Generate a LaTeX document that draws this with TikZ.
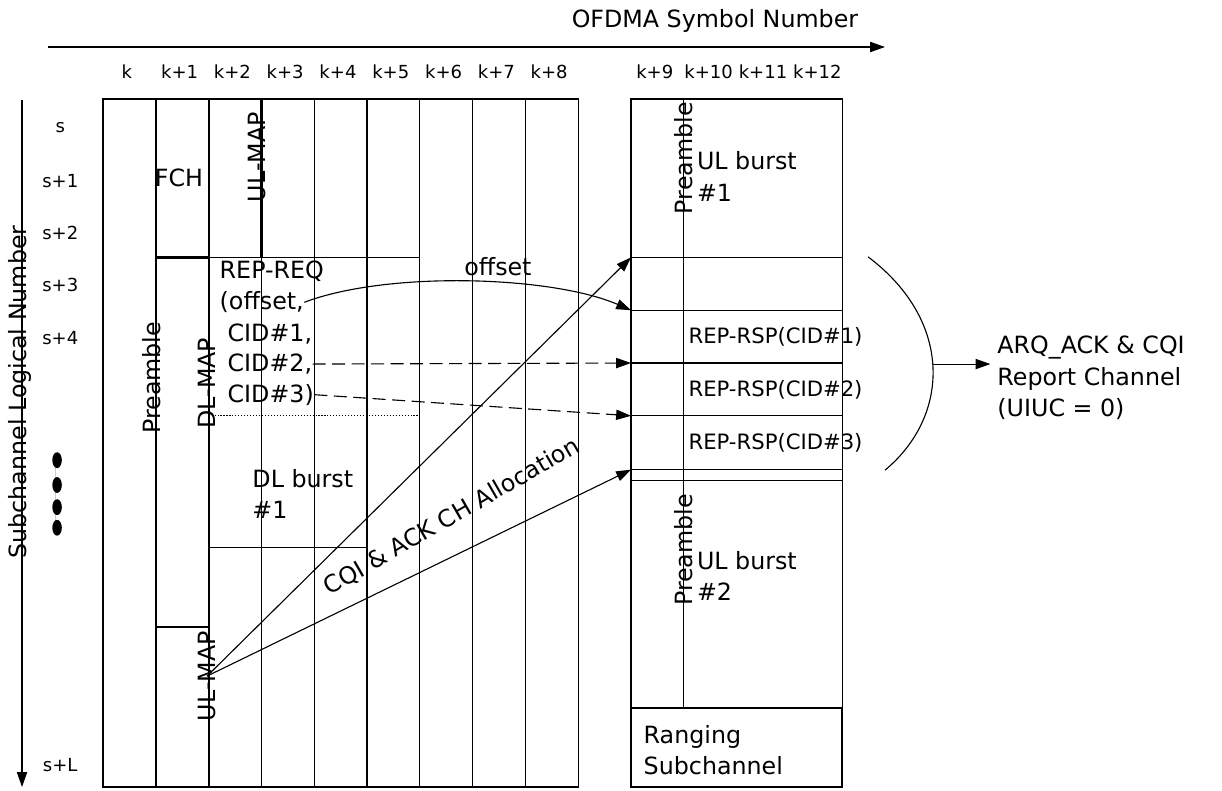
\documentclass[tikz,border=0pt]{standalone}
\usepackage{fontspec}
\setmainfont{DejaVu Sans}
\usetikzlibrary{arrows.meta}
\begin{document}
\begin{tikzpicture}[>={Triangle[length=8pt,width=5.5pt]}, line width=.6pt, inner sep=0pt,
  font=\fontsize{12.8}{16.9}\selectfont,
  thk/.style={line width=1.2pt},
  lab/.style={font=\fontsize{9.7}{12}\selectfont},
  rsp/.style={anchor=west, font=\fontsize{11.4}{14}\selectfont}]
\useasboundingbox (-1.951,1.875) rectangle (21.193,-13.106);

\node (T) at (11.59,1.47){OFDMA Symbol Number};
\node[rotate=90] (S) at (-1.57,-5.55){Subchannel Logical Number};
\coordinate (T0) at (-1.04,.985);
\coordinate (T1) at (14.81,.985);
\coordinate (S0) at (-1.534,-.02);
\coordinate (S1) at (-1.534,-13.03);
\draw[->](T0)--(T1);
\draw[->](S0)--(S1);

\node[lab] (k0) at (.45,.51){k};
\node[lab] (k1) at (1.45,.51){k+1};
\node[lab] (k2) at (2.45,.51){k+2};
\node[lab] (k3) at (3.45,.51){k+3};
\node[lab] (k4) at (4.45,.51){k+4};
\node[lab] (k5) at (5.45,.51){k+5};
\node[lab] (k6) at (6.45,.51){k+6};
\node[lab] (k7) at (7.45,.51){k+7};
\node[lab] (k8) at (8.45,.51){k+8};
\node[lab] (k9) at (10.45,.51){k+9};
\node[lab] (k10) at (11.47,.51){k+10};
\node[lab] (k11) at (12.5,.51){k+11};
\node[lab] (k12) at (13.53,.51){k+12};

\node[lab] (s0) at (-.81,-.55){s};
\node[lab] (s1) at (-.81,-1.55){s+1};
\node[lab] (s2) at (-.81,-2.54){s+2};
\node[lab] (s3) at (-.81,-3.52){s+3};
\node[lab] (s4) at (-.81,-4.53){s+4};
\node[lab] (sL) at (-.81,-12.61){s+L};
\draw[gray!40, line width=.4pt] (-.91,-6.84)--(-.91,-8.12);
\fill (-.87,-6.84) ellipse [x radius=.09, y radius=.15];
\fill (-.87,-7.31) ellipse [x radius=.09, y radius=.15];
\fill (-.87,-7.73) ellipse [x radius=.09, y radius=.15];
\fill (-.87,-8.12) ellipse [x radius=.09, y radius=.15];

\draw (0,0) rectangle (9,-13.03);
\draw (3,-3)--(3,-13.03);
\draw (4,0)--(4,-13.03);
\draw (5,0)--(5,-13.03);
\draw (6,0)--(6,-13.03);
\draw (7,0)--(7,-13.03);
\draw (8,0)--(8,-13.03);
\draw[thk] (0,-13.03)--(0,0)--(3,0)--(3,-3);
\draw[thk] (1,0)--(1,-13.03);
\draw[thk] (2,0)--(2,-13.03);
\draw[thk] (1,-3)--(2,-3);
\draw[thk] (0,-13.03)--(2,-13.03);
\draw (2,-3)--(6,-3);
\draw[densely dotted] (2,-6)--(6,-6);
\draw (2,-8.5)--(5,-8.5);
\draw (1,-10)--(2,-10);

\draw (10,0) rectangle (14,-13.03);
\draw (11,0)--(11,-11.53);
\draw (10,-3)--(14,-3);
\draw (10,-4)--(14,-4);
\draw (10,-5)--(14,-5);
\draw (10,-6)--(14,-6);
\draw (10,-7.02)--(14,-7.02);
\draw (10,-7.22)--(14,-7.22);
\draw[thk] (10,-11.53) rectangle (14,-13.03);
\coordinate (R3) at (10,-3);
\coordinate (R4) at (10,-4);
\coordinate (R5) at (10,-5);
\coordinate (R6) at (10,-6);
\coordinate (R7) at (10,-7.02);

\node (FCH) at (1.44,-1.5){FCH};
\node[rotate=90] (ULMAP1) at (2.92,-1.1){UL-MAP};
\node[rotate=90] (PRE1) at (.93,-5.28){Preamble};
\node[rotate=90] (DLMAP) at (1.97,-5.38){DL-MAP};
\node[rotate=90] (ULMAP2) at (1.97,-10.93){UL-MAP};
\node[anchor=west] (REQ1) at (2.2,-3.26){REP-REQ};
\node[anchor=west] (REQ2) at (2.2,-3.85){(offset,};
\node[anchor=west] (REQ3) at (2.35,-4.45){CID\#1,};
\node[anchor=west] (REQ4) at (2.35,-5.02){CID\#2,};
\node[anchor=west] (REQ5) at (2.35,-5.6){CID\#3)};
\node[align=left, anchor=west] (DL1) at (2.82,-7.48){DL burst\\\#1};
\node (OFF) at (7.48,-3.18){offset};
\node[rotate=30] (CQI) at (6.61,-7.91){CQI \& ACK CH Allocation};

\node[rotate=90] (PRE2) at (10.99,-1.12){Preamble};
\node[align=left, anchor=west] (UL1) at (11.24,-1.47){UL burst\\\#1};
\node[rsp] (RSP1) at (11.08,-4.5){REP-RSP(CID\#1)};
\node[rsp] (RSP2) at (11.08,-5.5){REP-RSP(CID\#2)};
\node[rsp] (RSP3) at (11.08,-6.51){REP-RSP(CID\#3)};
\node[rotate=90] (PRE3) at (10.99,-8.54){Preamble};
\node[align=left, anchor=west] (UL2) at (11.24,-9.03){UL burst\\\#2};
\node[align=left, anchor=west] (RNG) at (10.23,-12.33){Ranging\\Subchannel};
\node[align=left, anchor=west] (ARQ) at (16.93,-5.28){ARQ\_ACK \& CQI\\Report Channel\\(UIUC = 0)};

\draw[->](REQ2.east) .. controls (5.4,-3.25) and (8.5,-3.35) .. (R4);
\draw[->, dash pattern=on 7pt off 3.5pt](REQ4.east)--(R5);
\draw[->, dash pattern=on 7pt off 3.5pt](REQ5.east)--(R6);
\draw[->](ULMAP2.center)--(R3);
\draw[->](ULMAP2.center)--(R7);

\draw (14.49,-2.99) .. controls (16.1,-4.2) and (16.05,-6) .. (14.81,-7.03);
\coordinate (ARC) at (15.72,-5.02);
\draw[->, shorten >=3.5pt](ARC)--(ARC-|ARQ.west);

\end{tikzpicture}
\end{document}
